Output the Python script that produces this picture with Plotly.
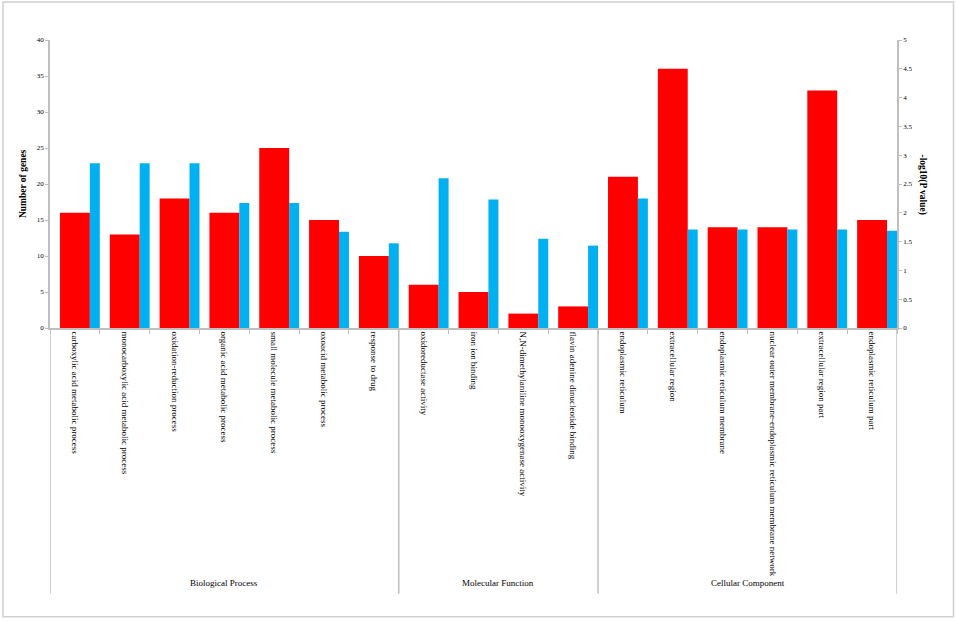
import plotly.graph_objects as go

# GO terms, grouped by category
terms = [
    "carboxylic acid metabolic process",
    "monocarboxylic acid metabolic process",
    "oxidation-reduction process",
    "organic acid metabolic process",
    "small molecule metabolic process",
    "oxoacid metabolic process",
    "response to drug",
    "oxidoreductase activity",
    "iron ion binding",
    "N,N-dimethylaniline monooxygenase activity",
    "flavin adenine dinucleotide binding",
    "endoplasmic reticulum",
    "extracellular region",
    "endoplasmic reticulum membrane",
    "nuclear outer membrane-endoplasmic reticulum membrane network",
    "extracellular region part",
    "endoplasmic reticulum part",
]
gene_counts = [16, 13, 18, 16, 25, 15, 10, 6, 5, 2, 3, 21, 36, 14, 14, 33, 15]
neg_log_p = [2.86, 2.86, 2.86, 2.17, 2.17, 1.67, 1.47,
             2.60, 2.23, 1.55, 1.43,
             2.25, 1.71, 1.71, 1.71, 1.71, 1.69]

groups = ["Biological Process", "Molecular Function", "Cellular Component"]
group_sizes = [7, 4, 6]

axis_grey = "#bfbfbf"
serif = "Liberation Serif, Times New Roman, serif"

fig = go.Figure()

fig.add_trace(go.Bar(
    x=terms, y=gene_counts, name="Number of genes",
    marker=dict(color="#ff0000", line=dict(width=0)),
    width=0.6, offset=-0.3,
))
fig.add_trace(go.Bar(
    x=terms, y=neg_log_p, name="-log10(P value)", yaxis="y2",
    marker=dict(color="#00b0f0", line=dict(width=0)),
    width=0.2, offset=0.3,
))

# group dividers below the axis + group names
shapes = []
annotations = []
start = 0
bounds = [-0.5]
for g, n in zip(groups, group_sizes):
    annotations.append(dict(
        x=start + (n - 1) / 2, y=-0.91, xref="x", yref="paper",
        text=g, showarrow=False, font=dict(size=9, color="black", family=serif),
    ))
    start += n
    bounds.append(start - 0.5)
for b in bounds:
    shapes.append(dict(type="line", xref="x", yref="paper", x0=b, x1=b,
                       y0=0, y1=-0.923, line=dict(color=axis_grey, width=1.5)))

# outer frame
shapes.append(dict(type="rect", xref="paper", yref="paper",
                   x0=-0.0555, x1=1.0667, y0=-1.003, y1=1.132,
                   line=dict(color="#d0d0d0", width=1.5)))

annotations.append(dict(x=-0.040, y=0.5, xref="paper", yref="paper",
                        text="<b>Number of genes</b>", textangle=-90,
                        showarrow=False, font=dict(size=9.5, color="black", family=serif)))
annotations.append(dict(x=1.039, y=0.5, xref="paper", yref="paper",
                        text="<b>-log10(P value)</b>", textangle=90,
                        showarrow=False, font=dict(size=9.5, color="black", family=serif)))

fig.update_layout(
    width=957, height=621,
    margin=dict(l=50, r=60, t=40, b=293),
    paper_bgcolor="white", plot_bgcolor="white",
    barmode="overlay", showlegend=False,
    font=dict(family=serif, color="black"),
    xaxis=dict(
        type="category", range=[-0.5, 16.5], tickangle=90,
        tickfont=dict(size=9, family=serif, color="black"),
        showline=True, linecolor=axis_grey, linewidth=1.5,
        ticks="outside", tickson="boundaries", ticklen=4, tickcolor=axis_grey,
        showgrid=False,
    ),
    yaxis=dict(
        range=[0, 40], dtick=5, showgrid=False, zeroline=False,
        showline=True, linecolor=axis_grey, linewidth=1.5,
        ticks="outside", ticklen=3, tickcolor=axis_grey,
        tickfont=dict(size=7, family=serif, color="black"),
    ),
    yaxis2=dict(
        range=[0, 5], dtick=0.5, overlaying="y", side="right",
        showgrid=False, zeroline=False,
        showline=True, linecolor=axis_grey, linewidth=1.5,
        ticks="outside", ticklen=3, tickcolor=axis_grey,
        tickfont=dict(size=7, family=serif, color="black"),
    ),
    shapes=shapes,
    annotations=annotations,
)

# drop the browser's default 8px body margin so the figure fills the window
fig.write_html("out.html", config={"displayModeBar": False},
               post_script="document.body.style.margin='0';")
